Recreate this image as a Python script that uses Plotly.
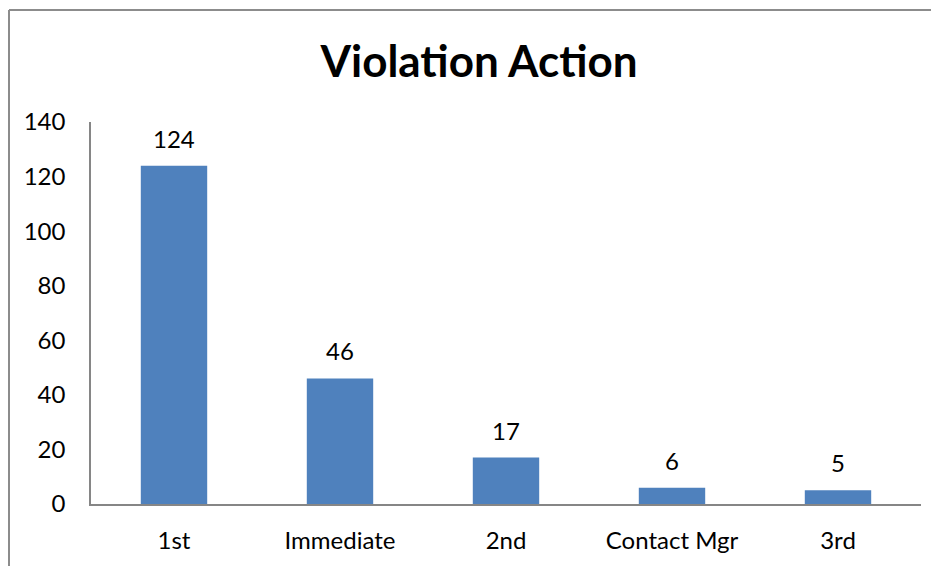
import plotly.graph_objects as go

categories = ["1st", "Immediate", "2nd", "Contact Mgr", "3rd"]
values = [124, 46, 17, 6, 5]
y_ticks = [0, 20, 40, 60, 80, 100, 120, 140]

# page has an 8px body margin, so the figure is laid out 8px up/left
W, H = 931, 558
L, R, T, B = 83, 18, 114, 62
FONT = "Lato, 'Open Sans', sans-serif"

fig = go.Figure(go.Bar(
    x=categories, y=values,
    marker=dict(color="#4F81BD", line=dict(width=0)),
    width=0.4,
))

for c, v in zip(categories, values):
    fig.add_annotation(x=c, y=v, text=str(v), showarrow=False,
                       yanchor="bottom", yshift=11,
                       font=dict(size=24, color="#000000", family=FONT))

pw = W - L - R
ph = H - T - B
fig.update_layout(
    width=W, height=H,
    margin=dict(l=L, r=R, t=T, b=B, autoexpand=False),
    paper_bgcolor="white", plot_bgcolor="white",
    showlegend=False,
    title=dict(text="<b>Violation Action</b>", x=471 / W, xanchor="center",
               y=1 - 54 / H, yanchor="middle",
               font=dict(size=44, color="#000000", family=FONT)),
    font=dict(family=FONT, size=24, color="#000000"),
    xaxis=dict(showline=True, linecolor="#868686", linewidth=2,
               showgrid=False, ticks="", ticklabelstandoff=14,
               tickfont=dict(size=24, family=FONT, color="#000000")),
    yaxis=dict(range=[0, 140], tickvals=y_ticks, showline=True,
               linecolor="#868686", linewidth=1.5, showgrid=False,
               zeroline=False, ticks="", ticklabelstandoff=19,
               tickfont=dict(size=24, family=FONT, color="#000000")),
    shapes=[
        dict(type="line", xref="paper", yref="paper",
             x0=(1 - L) / pw, x1=(1 - L) / pw,
             y0=(H - 2 - B) / ph, y1=-B / ph - 0.02,
             line=dict(color="#8C8C8C", width=2)),
        dict(type="line", xref="paper", yref="paper",
             x0=(1 - L) / pw, x1=1 + R / pw + 0.02,
             y0=(H - 2 - B) / ph, y1=(H - 2 - B) / ph,
             line=dict(color="#8C8C8C", width=2)),
    ],
)

fig.write_html("out.html")
